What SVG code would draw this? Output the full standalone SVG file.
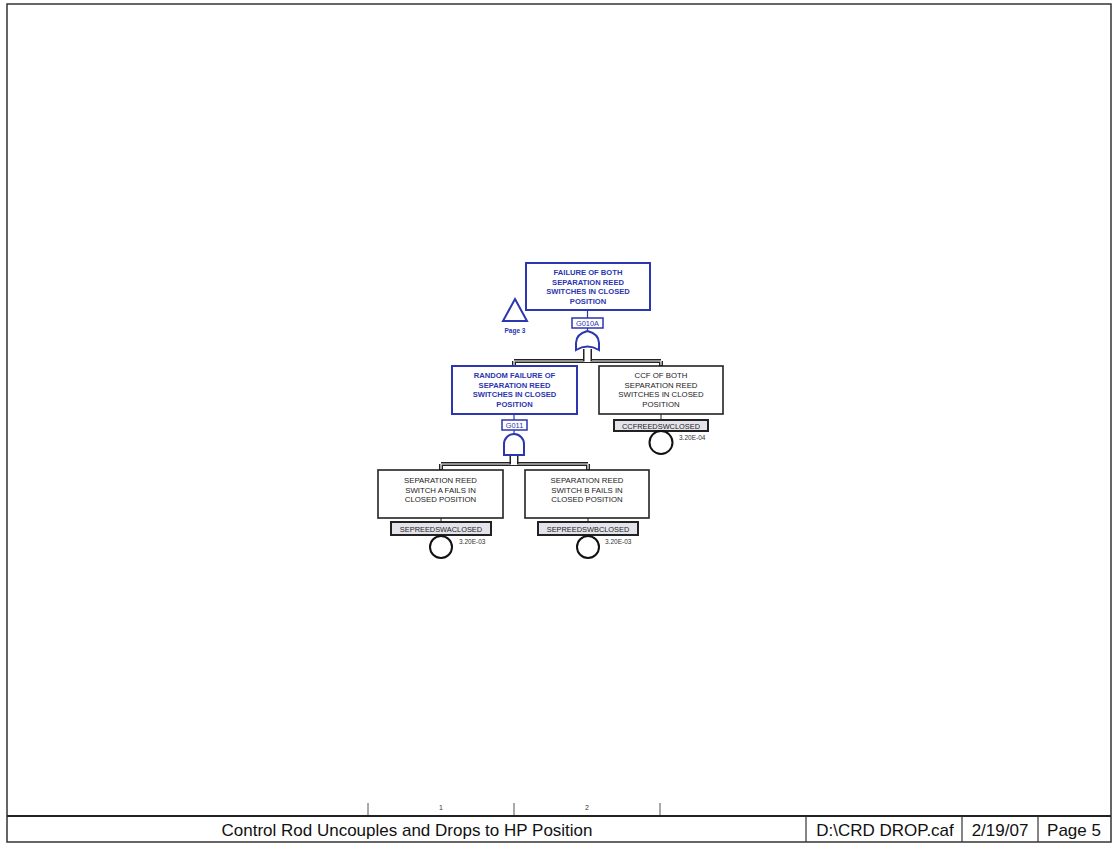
<svg xmlns="http://www.w3.org/2000/svg" width="1113" height="843" viewBox="0 0 1113 843">
<style>
.frame{fill:none;stroke:#333;stroke-width:1.5}
.gbox{fill:#fff;stroke:#2b36b0;stroke-width:2}
.ebox{fill:#fff;stroke:#222;stroke-width:1.6}
.gtxt{font-family:"Liberation Sans",Arial,sans-serif;font-size:7.6px;font-weight:bold;fill:#2b36b0;text-anchor:middle}
.etxt{font-family:"Liberation Sans",Arial,sans-serif;font-size:7.8px;fill:#222;text-anchor:middle}
.glbl{fill:#fff;stroke:#2b36b0;stroke-width:1.5}
.elbl{fill:#e4e2ea;stroke:#222;stroke-width:2}
.ltxt{font-family:"Liberation Sans",Arial,sans-serif;font-size:7.4px;fill:#222;text-anchor:middle}
.lbtxt{font-family:"Liberation Sans",Arial,sans-serif;font-size:7.4px;fill:#2b36b0;text-anchor:middle}
.prob{font-family:"Liberation Sans",Arial,sans-serif;font-size:6.5px;fill:#333}
.gate{fill:#fff;stroke:#2b36b0;stroke-width:2}
.circ{fill:#fff;stroke:#111;stroke-width:2}
.conO{fill:none;stroke:#222;stroke-width:4}
.conI{fill:none;stroke:#fff;stroke-width:1.2}
.thin{fill:none;stroke:#444;stroke-width:1.2}
.bthin{fill:none;stroke:#2b36b0;stroke-width:1.2}
.tb{font-family:"Liberation Sans",Arial,sans-serif;font-size:17px;fill:#111;text-anchor:middle}
.rl{font-family:"Liberation Sans",Arial,sans-serif;font-size:7px;fill:#333;text-anchor:middle}
</style>
<rect x="0" y="0" width="1113" height="843" fill="#fff"/>
<g id="frame">
<rect class="frame" x="7" y="4" width="1104" height="838"/>
<line x1="7" y1="816" x2="1111" y2="816" stroke="#222" stroke-width="2.2"/>
<line x1="806" y1="816" x2="806" y2="842" stroke="#333" stroke-width="1.2"/>
<line x1="962" y1="816" x2="962" y2="842" stroke="#333" stroke-width="1.2"/>
<line x1="1038" y1="816" x2="1038" y2="842" stroke="#333" stroke-width="1.2"/>
<line x1="368" y1="803" x2="368" y2="815" stroke="#555" stroke-width="1"/>
<line x1="514" y1="803" x2="514" y2="815" stroke="#555" stroke-width="1"/>
<line x1="660" y1="803" x2="660" y2="815" stroke="#555" stroke-width="1"/>
<text class="rl" x="441" y="810">1</text>
<text class="rl" x="587" y="810">2</text>
<text class="tb" x="407" y="836">Control Rod Uncouples and Drops to HP Position</text>
<text class="tb" x="885" y="836">D:\CRD DROP.caf</text>
<text class="tb" x="1000" y="836">2/19/07</text>
<text class="tb" x="1074" y="836">Page 5</text>
</g>
<g id="connectors">
<path class="conO" d="M587.5,352 V361 M514,361 H661 M514,361 V366 M661,361 V366"/>
<path class="conI" d="M514,361 H661 M514,361 V365 M661,361 V365"/>
<path d="M587.5,349 V361" fill="none" stroke="#222" stroke-width="9"/>
<path d="M587.5,349 V362" fill="none" stroke="#fff" stroke-width="6"/>
<path class="conO" d="M441,464 H588 M441,464 V470 M588,464 V470"/>
<path class="conI" d="M441,464 H588 M441,464 V469 M588,464 V469"/>
<path d="M514,454 V464" fill="none" stroke="#222" stroke-width="9"/>
<path d="M514,454 V465" fill="none" stroke="#fff" stroke-width="6"/>
<path class="bthin" d="M587.5,311 V318 M587.5,328 V331 M514,414 V420 M514,430 V434"/>
<path class="thin" d="M661,414 V420 M441,518 V522 M588,518 V522"/>
</g>
<g id="g010a">
<rect class="gbox" x="526" y="263" width="124" height="47"/>
<text class="gtxt" x="588" y="275">FAILURE OF BOTH</text>
<text class="gtxt" x="588" y="284.5">SEPARATION REED</text>
<text class="gtxt" x="588" y="294">SWITCHES IN CLOSED</text>
<text class="gtxt" x="588" y="303.5">POSITION</text>
<rect class="glbl" x="572" y="318" width="31" height="10"/>
<text class="lbtxt" x="587.5" y="326">G010A</text>
<path class="gate" d="M576,350 Q587.5,343 599,350 L599,343 Q599,334 587.5,331 Q576,334 576,343 Z"/>
</g>
<g id="transfer">
<path d="M515,299 L527,321 L503,321 Z" fill="#fff" stroke="#2b36b0" stroke-width="2"/>
<text class="lbtxt" x="515" y="333" style="font-size:6.5px;font-weight:bold">Page 3</text>
</g>
<g id="g011">
<rect class="gbox" x="452" y="366" width="125" height="48"/>
<text class="gtxt" x="514.5" y="378">RANDOM FAILURE OF</text>
<text class="gtxt" x="514.5" y="387.5">SEPARATION REED</text>
<text class="gtxt" x="514.5" y="397">SWITCHES IN CLOSED</text>
<text class="gtxt" x="514.5" y="406.5">POSITION</text>
<rect class="glbl" x="502" y="420" width="25" height="10"/>
<text class="lbtxt" x="514.5" y="428">G011</text>
<path class="gate" d="M504,455 L504,444 A10,10 0 0 1 524,444 L524,455 Z"/>
</g>
<g id="ccf">
<rect class="ebox" x="599" y="366" width="124" height="48"/>
<text class="etxt" x="661" y="378">CCF OF BOTH</text>
<text class="etxt" x="661" y="387.5">SEPARATION REED</text>
<text class="etxt" x="661" y="397">SWITCHES IN CLOSED</text>
<text class="etxt" x="661" y="406.5">POSITION</text>
<rect class="elbl" x="614" y="420" width="94" height="11"/>
<text class="ltxt" x="661" y="428.5">CCFREEDSWCLOSED</text>
<circle class="circ" cx="661" cy="442.5" r="11.5"/>
<text class="prob" x="679" y="440">3.20E-04</text>
</g>
<g id="swa">
<rect class="ebox" x="378" y="470" width="125" height="48"/>
<text class="etxt" x="440.5" y="483">SEPARATION REED</text>
<text class="etxt" x="440.5" y="492.5">SWITCH A FAILS IN</text>
<text class="etxt" x="440.5" y="502">CLOSED POSITION</text>
<rect class="elbl" x="391" y="522" width="100" height="13"/>
<text class="ltxt" x="441" y="531.5">SEPREEDSWACLOSED</text>
<circle class="circ" cx="441" cy="547" r="11"/>
<text class="prob" x="459" y="544">3.20E-03</text>
</g>
<g id="swb">
<rect class="ebox" x="525" y="470" width="124" height="48"/>
<text class="etxt" x="587" y="483">SEPARATION REED</text>
<text class="etxt" x="587" y="492.5">SWITCH B FAILS IN</text>
<text class="etxt" x="587" y="502">CLOSED POSITION</text>
<rect class="elbl" x="538" y="522" width="100" height="13"/>
<text class="ltxt" x="588" y="531.5">SEPREEDSWBCLOSED</text>
<circle class="circ" cx="588" cy="547" r="11"/>
<text class="prob" x="605" y="544">3.20E-03</text>
</g>
</svg>
